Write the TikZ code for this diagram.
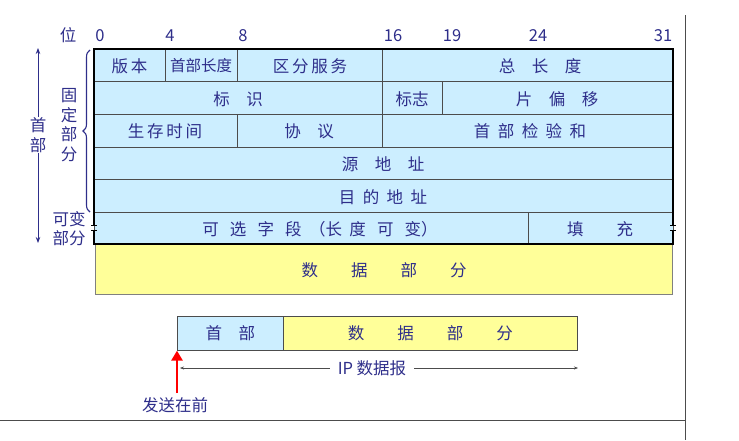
\documentclass[tikz,border=0pt]{standalone}
\usepackage{fontspec}
\setmainfont{Noto Sans CJK SC}
\usetikzlibrary{decorations.pathreplacing,arrows.meta}
\definecolor{tx}{HTML}{2E2E8A}
\definecolor{lb}{HTML}{CCEEFF}
\definecolor{yl}{HTML}{FFFF99}
\tikzset{cell/.style={draw=black!70,fill=lb,line width=0.6pt},
  ycell/.style={draw=black!50,fill=yl,line width=0.6pt},
  lab/.style={text=tx,font=\fontsize{16.5}{18}\selectfont,inner sep=0pt}}
\begin{document}
\begin{tikzpicture}[x=1pt,y=-1pt]
\useasboundingbox (0,0) rectangle (739,440);
\draw[black!70,line width=1pt] (685,15) -- (685,440);
\draw[black!70,line width=1pt] (0,420) -- (685,420);
% rows
\draw[cell] (94,49) rectangle (165,81); \draw[cell] (165,49) rectangle (237,81);
\draw[cell] (237,49) rectangle (382,81); \draw[cell] (382,49) rectangle (673,81);
\draw[cell] (94,81) rectangle (382,114); \draw[cell] (382,81) rectangle (442,114);
\draw[cell] (442,81) rectangle (673,114);
\draw[cell] (94,114) rectangle (237,147); \draw[cell] (237,114) rectangle (382,147);
\draw[cell] (382,114) rectangle (673,147);
\draw[cell] (94,147) rectangle (673,179);
\draw[cell] (94,179) rectangle (673,212);
\draw[cell] (94,212) rectangle (528,244); \draw[cell] (528,212) rectangle (673,244);
\draw[ycell] (95,244) rectangle (672,294);
\draw[line width=1.3pt] (94,225) -- (94,49) -- (673,49) -- (673,225);
\draw[line width=1.3pt] (94,230) -- (94,244) -- (673,244) -- (673,230);
\foreach \x in {94,673}{\draw[line width=0.9pt] (\x-3,225)--(\x+3,225) (\x-3,230)--(\x+3,230);}
% texts
\node[lab] (t1) at (129.5,66) {版\,本};
\node[lab,font=\fontsize{15.5}{17}\selectfont] (t2) at (201,66) {首部长度};
\node[lab] (t3) at (310,66) {区\,分\,服\,务};
\node[lab] (t4) at (540,66) {总\quad 长\quad 度};
\node[lab] (t5) at (238,99) {标\quad 识};
\node[lab] (t6) at (412,99) {标志};
\node[lab] (t7) at (557,99) {片\quad 偏\quad 移};
\node[lab] (t8) at (165,131) {生\,存\,时\,间};
\node[lab] (t9) at (309,131) {协\quad 议};
\node[lab] (t10) at (530,131) {首\ \ 部\ \ 检\ \ 验\ \ 和};
\node[lab] (t11) at (383,164) {源\quad 地\quad 址};
\node[lab] (t12) at (383,197) {目\ \ 的\ \ 地\ \ 址};
\node[lab] (t13) at (320,229) {可\ \ \ 选\ \ \ 字\ \ \ 段\ \ （长\ \ 度\ \ \ 可\ \ \ 变）};
\node[lab] (t14) at (600,229) {填\qquad 充};
\node[lab] (t15) at (384,270) {数\qquad 据\qquad 部\qquad 分};
% bits
\foreach \x/\t in {100/0,170/4,243/8,393/16,452/19,538/24,663/31}{\node[lab] at (\x,36) {\t};}
\node[lab] (wei) at (68,35) {位};
% brace
\draw[tx,line width=1.1pt,decorate,decoration={brace,amplitude=7pt,mirror}] (90,50) -- (90,212);
\node[lab,align=center,font=\fontsize{16.5}{19.5}\selectfont] (gd) at (69,125) {固\\定\\部\\分};
\node[lab,align=center,font=\fontsize{16.5}{19}\selectfont] (kb) at (69,229) {可变\\部分};
\node[lab,align=center,font=\fontsize{16.5}{20}\selectfont] (sb) at (38,135) {首\\部};
\draw[tx,line width=0.9pt,-{Stealth[length=6pt]}] (sb.north) -- (38,48);
\draw[tx,line width=0.9pt,-{Stealth[length=6pt]}] (sb.south) -- (38,243);
% bottom
\node[draw=black!70,fill=lb,line width=0.6pt,minimum width=106pt,minimum height=34pt,anchor=north west,inner sep=0pt] (hb) at (177,316) {};
\node[draw=black!70,fill=yl,line width=0.6pt,minimum width=294pt,minimum height=34pt,anchor=north west,inner sep=0pt] (db) at (283,316) {};
\node[lab] at (hb) {首\quad 部};
\node[lab] at (db) {数\qquad 据\qquad 部\qquad 分};
\node[lab,fill=white,inner xsep=8pt] (ip) at (372,368) {IP 数据报};
\coordinate (l) at (180,368); \coordinate (r) at (578,368);
\draw[black!70,-{Stealth[length=4pt]}] (ip.west) -- (l);
\draw[black!70,-{Stealth[length=4pt]}] (ip.east) -- (r);
\node[lab] (fs) at (175,405) {发送在前};
\coordinate (ra) at (177,393);
\draw[red,line width=2.5pt,-{Triangle[length=10pt,width=11pt]}] (ra) -- (hb.south west);
\end{tikzpicture}
\end{document}
